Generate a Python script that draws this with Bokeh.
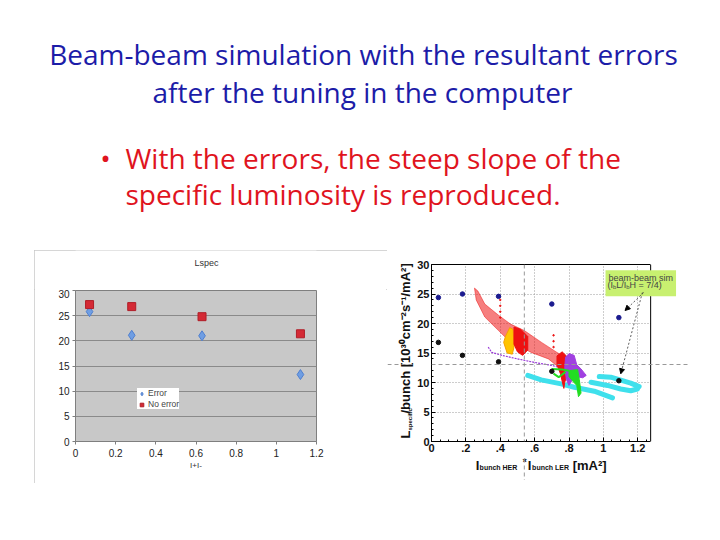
import math
from bokeh.plotting import figure
from bokeh.models import (Range1d, FixedTicker, Label, Arrow, NormalHead, Span,
                          BoxAnnotation, LinearAxis, Legend, LegendItem, Spacer)
from bokeh.layouts import column, row
from bokeh.embed import file_html
from bokeh.resources import INLINE
from bokeh.core.properties import value

# ---------------- slide text ----------------
title_lines = ["Beam-beam simulation with the resultant errors",
               "after the tuning in the computer"]
bullet_lines = ["With the errors, the steep slope of the",
                "specific luminosity is reproduced."]

# ---------------- left chart data ----------------
lspec_title = "Lspec"
lspec_x = [0.07, 0.28, 0.63, 1.12]
lspec_error = [25.8, 21.1, 21.0, 13.3]
lspec_noerror = [27.2, 26.8, 24.8, 21.4]
left_x_ticks = [0, 0.2, 0.4, 0.6, 0.8, 1.0, 1.2]
left_x_labels = ["0", "0.2", "0.4", "0.6", "0.8", "1", "1.2"]
left_y_ticks = [0, 5, 10, 15, 20, 25, 30]

# ---------------- right chart data ----------------
sim_x = [0.04, 0.18, 0.39, 0.70, 1.09]
sim_noerr = [24.4, 25.0, 24.6, 23.3, 21.0]
sim_err = [16.8, 14.6, 13.5, 11.9, 10.3]

red_band_x = [0.25, 0.27, 0.31, 0.39, 0.46, 0.54, 0.64, 0.73, 0.77, 0.765, 0.68, 0.58, 0.52, 0.46, 0.39, 0.31, 0.26]
red_band_y = [26.0, 25.5, 23.3, 21.4, 19.9, 18.8, 16.8, 15.1, 14.4, 12.0, 14.0, 15.1, 16.0, 16.8, 18.8, 21.1, 24.0]
red_block1_x = [0.48, 0.52, 0.56, 0.56, 0.53, 0.50, 0.48]
red_block1_y = [19.4, 19.0, 17.8, 15.5, 14.6, 15.2, 16.5]
red_block2_x = [0.73, 0.76, 0.785, 0.79, 0.775, 0.77, 0.75, 0.73]
red_block2_y = [14.5, 15.2, 14.5, 11.5, 10.0, 9.0, 11.5, 13.0]
red_dots_x = [0.40, 0.40, 0.40, 0.40, 0.71, 0.71, 0.71]
red_dots_y = [21.0, 22.0, 23.0, 24.0, 16.0, 17.0, 18.0]
yellow_x = [0.455, 0.475, 0.48, 0.47, 0.44, 0.42, 0.43]
yellow_y = [19.3, 19.0, 16.0, 14.8, 15.0, 16.8, 17.8]
purple_line_x = [0.33, 0.35, 0.41, 0.50, 0.60, 0.70, 0.75]
purple_line_y = [16.0, 15.1, 14.6, 14.0, 13.4, 12.9, 12.5]
purple_block_x = [0.78, 0.80, 0.83, 0.845, 0.87, 0.90, 0.88, 0.84, 0.82, 0.80, 0.785, 0.775]
purple_block_y = [14.3, 14.9, 14.6, 13.0, 12.3, 11.2, 10.8, 11.0, 10.5, 9.5, 10.5, 12.5]
green_block_x = [0.80, 0.85, 0.86, 0.87, 0.855, 0.845, 0.82, 0.80]
green_block_y = [12.0, 12.2, 10.5, 8.2, 7.6, 9.5, 10.3, 11.0]
green_lines_x = [[0.70, 0.76, 0.80], [0.71, 0.74, 0.78]]
green_lines_y = [[12.3, 12.2, 12.0], [11.5, 10.9, 11.8]]
cyan_lines_x = [[0.56, 0.638, 0.754, 0.831, 0.947, 1.053],
                [0.976, 1.043, 1.111, 1.159, 1.208],
                [0.928, 1.024, 1.101, 1.159, 1.198]]
cyan_lines_y = [[11.2, 10.45, 9.77, 9.2, 8.53, 7.4],
                [11.0, 10.9, 10.3, 9.9, 9.3],
                [10.05, 9.5, 8.9, 8.6, 8.9]]
crosshair_x = 0.54
crosshair_y = 13.05
right_x_ticks = [0, 0.2, 0.4, 0.6, 0.8, 1.0, 1.2]
right_x_labels = ["0", ".2", ".4", ".6", ".8", "1", "1.2"]
right_y_ticks = [0, 5, 10, 15, 20, 25, 30]

TITLE_BLUE = "#1c1ca8"
BULLET_RED = "#e0141e"
SLIDE_FONT = "Open Sans"
SLIDE_SIZE = "28px"
LF = "Liberation Sans"

# ================= top: slide text =================
top = figure(width=700, height=240, x_range=Range1d(0, 700), y_range=Range1d(240, 0),
             x_axis_location=None, y_axis_location=None, min_border=0,
             output_backend="svg", toolbar_location=None)
top.grid.visible = False
top.outline_line_color = None
top.text(x=[363, 362], y=[53, 91], text=title_lines, text_font=value(SLIDE_FONT),
         text_font_size=SLIDE_SIZE, text_color=TITLE_BLUE, text_align="center",
         text_baseline="middle")
top.text(x=[105], y=[157], text=["\u2022"], text_font=value(SLIDE_FONT),
         text_font_size=SLIDE_SIZE, text_color=BULLET_RED, text_align="center",
         text_baseline="middle")
top.text(x=[125, 125], y=[157, 193.5], text=bullet_lines, text_font=value(SLIDE_FONT),
         text_font_size=SLIDE_SIZE, text_color=BULLET_RED, text_align="left",
         text_baseline="middle")

# ================= left chart =================
L_TOP, L_FRAME_T, L_BOT = 250, 290, 483
lp = figure(width=353, height=L_BOT - L_FRAME_T + 1, x_range=Range1d(0, 1.2), y_range=Range1d(0, 30),
            min_border_left=41, min_border_right=71, min_border_top=1, min_border_bottom=42,
            output_backend="svg", toolbar_location=None)
lp.background_fill_color = "#c8c8c8"
lp.outline_line_color = "#7f7f7f"
lp.xgrid.visible = False
lp.ygrid.ticker = FixedTicker(ticks=left_y_ticks)
lp.ygrid.grid_line_color = "#8a8a8a"
lp.xaxis.ticker = FixedTicker(ticks=left_x_ticks)
lp.xaxis.major_label_overrides = {t: s for t, s in zip(left_x_ticks, left_x_labels)}
lp.yaxis.ticker = FixedTicker(ticks=left_y_ticks)
for ax in (lp.xaxis, lp.yaxis):
    ax.axis_line_color = "#7f7f7f"
    ax.major_tick_line_color = "#7f7f7f"
    ax.major_tick_out = 3
    ax.major_tick_in = 0
    ax.minor_tick_line_color = None
    ax.major_label_text_font = LF
    ax.major_label_text_font_size = "10px"
    ax.major_label_text_color = "#222222"
lp.yaxis.major_label_standoff = 3
lp.xaxis.major_label_standoff = 4
lp.xaxis.axis_label = "I+I-"
lp.xaxis.axis_label_text_font = LF
lp.xaxis.axis_label_text_font_size = "8px"
lp.xaxis.axis_label_text_font_style = "normal"
lp.xaxis.axis_label_text_color = "#333333"
lp.xaxis.axis_label_standoff = 1

r_err = lp.scatter(lspec_x, lspec_error, marker="diamond", size=10,
                   fill_color="#6f9ee3", line_color="#4f7fcf")
r_noerr = lp.scatter(lspec_x, lspec_noerror, marker="square", size=8,
                     fill_color="#d42a35", line_color="#b01e28")
legend = Legend(items=[LegendItem(label="Error", renderers=[r_err]),
                       LegendItem(label="No error", renderers=[r_noerr])],
                location=(62, 32), padding=2, spacing=1, margin=0,
                glyph_width=9, glyph_height=9, label_height=9, label_standoff=2,
                label_text_font=LF, label_text_font_size="8.5px",
                background_fill_color="white", background_fill_alpha=1,
                border_line_color=None)
lp.add_layout(legend)

# chart title strip above the plot (same x range, frames aligned by the column)
ltitle = figure(width=353, height=L_FRAME_T - L_TOP - 1, x_range=lp.x_range,
                y_range=Range1d(L_FRAME_T - 1, L_TOP),
                x_axis_location=None, y_axis_location=None,
                min_border_left=41, min_border_right=71, min_border_top=0, min_border_bottom=0,
                output_backend="svg", toolbar_location=None)
ltitle.grid.visible = False
ltitle.outline_line_color = None
ltitle.text(x=[0.652], y=[262], text=[lspec_title], text_font=value(LF), text_font_size="9px",
            text_color="#333333", text_align="center", text_baseline="middle")

left_block = column(ltitle, lp, styles={"outline": "1px solid #c8c8c8", "outline-offset": "-1px"})

# ================= right chart =================
# pixel geometry of the right chart (screen px)
FR_L, FR_R, FR_T, FR_B = 430, 650, 264, 441
CANVAS_R = 690
X_END = 1.275
PX_X = (FR_R - FR_L) / X_END          # px per x unit
PX_Y = (FR_B - FR_T) / 30.0           # px per y unit
def dx(px):
    return (px - FR_L) / PX_X
def dy(py):
    return (FR_B - py) / PX_Y

YL_L, YL_R = 387, 414
TOP_R, BOT_R = 240, 480
MAIN_B = 458   # bottom of main figure canvas

# the frame runs to the canvas edge; the part right of X_END is masked white so the
# annotation box may extend past the plotted area like in the original
rp = figure(width=CANVAS_R - YL_R, height=MAIN_B - TOP_R, x_range=Range1d(0, dx(CANVAS_R)),
            y_range=Range1d(0, 30),
            min_border_left=FR_L - YL_R, min_border_right=0,
            min_border_top=FR_T - TOP_R, min_border_bottom=MAIN_B - FR_B,
            output_backend="svg", toolbar_location=None)
rp.background_fill_color = "white"
rp.outline_line_color = None
rp.xaxis.ticker = FixedTicker(ticks=right_x_ticks, minor_ticks=[i * 0.05 for i in range(26)])
rp.yaxis.ticker = FixedTicker(ticks=right_y_ticks, minor_ticks=list(range(31)))
rp.xaxis.major_label_overrides = {t: s for t, s in zip(right_x_ticks, right_x_labels)}
rp.xaxis.bounds = (0, X_END)
rp.xgrid.ticker = FixedTicker(ticks=right_x_ticks)
rp.ygrid.ticker = FixedTicker(ticks=right_y_ticks)
for g in (rp.xgrid, rp.ygrid):
    g.grid_line_color = "#9a9a9a"
    g.grid_line_dash = "1 2"
for ax in (rp.xaxis, rp.yaxis):
    ax.axis_line_color = "black"
    ax.major_tick_in = 4
    ax.major_tick_out = 0
    ax.minor_tick_in = 2
    ax.minor_tick_out = 0
    ax.major_label_text_font = LF
    ax.major_label_text_font_style = "bold"
    ax.major_label_text_font_size = "11px"
    ax.major_label_text_color = "#111111"
    ax.major_label_standoff = 2
rp.add_layout(LinearAxis(ticker=FixedTicker(ticks=[]), bounds=(0, X_END),
                         axis_line_color="black"), "above")

# clouds
rp.patch(red_band_x, red_band_y, fill_color="#ee1515", fill_alpha=0.55, line_color="#ee1515",
         line_alpha=0.5, line_width=1)
rp.patch(yellow_x, yellow_y, fill_color="#ffc400", line_color="#f5a000", line_width=1)
rp.patch(red_block1_x, red_block1_y, fill_color="#ee1111", line_color="#ee1111")
rp.line(purple_line_x, purple_line_y, line_color="#9a3ad8", line_width=1.2, line_dash="2 1")
rp.multi_line(cyan_lines_x, cyan_lines_y, line_color="#3fe0ec", line_width=5,
              line_cap="round", line_join="round")
rp.patch(red_block2_x, red_block2_y, fill_color="#ee1111", line_color="#ee1111")
rp.patch(purple_block_x, purple_block_y, fill_color="#a040e0", line_color="#a040e0")
rp.multi_line(green_lines_x, green_lines_y, line_color="#22dd22", line_width=2)
rp.patch(green_block_x, green_block_y, fill_color="#22dd22", line_color="#22dd22")
rp.scatter(red_dots_x, red_dots_y, size=1.5, color="#ee1111")
rp.scatter(sim_x, sim_noerr, size=4.5, color="#1b1b8f")
rp.scatter(sim_x, sim_err, size=4.5, color="#111111")

# mask beyond the plotted area, then the right border of the plot
rp.add_layout(BoxAnnotation(left=X_END, fill_color="white", fill_alpha=1, line_color=None))
rp.add_layout(Span(location=X_END, dimension="height", line_color="black", line_width=1))

rp.add_layout(Span(location=crosshair_x, dimension="height", line_color="#999999",
                   line_dash="4 3", line_width=1))
rp.add_layout(Span(location=crosshair_y, dimension="width", line_color="#999999",
                   line_dash="4 3", line_width=1))

# annotation box
BOX_L, BOX_T = 601.7, 266.7
rp.add_layout(Label(x=dx(BOX_L + 3), y=dy(BOX_T + 3), text="beam-beam sim\n\u00a0", text_font=LF,
                    text_font_size="9px", text_line_height=1.0, text_align="left",
                    text_baseline="top", background_fill_color="#c8f070", padding=3))
for txt, px, py, fs in [("(I", 606.7, 284.3, "9px"), ("b", 612.2, 286.0, "6px"),
                        ("L/I", 615.5, 284.3, "9px"), ("b", 625.5, 286.0, "6px"),
                        ("H = 7/4)", 628.8, 284.3, "9px")]:
    rp.add_layout(Label(x=dx(px), y=dy(py), text=txt, text_font=LF, text_font_size=fs,
                        text_align="left", text_baseline="middle"))
for (sx0, sy0), (sx1, sy1) in [((643, 292), (624.3, 310)), ((641.7, 292), (620, 373.3))]:
    rp.add_layout(Arrow(end=NormalHead(size=5, fill_color="black", line_color="black"),
                        x_start=dx(sx0), y_start=dy(sy0), x_end=dx(sx1), y_end=dy(sy1),
                        line_color="#333333", line_dash="2 2", line_width=0.8))

# y axis label (own strip, same y scale as the chart)
ylab = figure(width=YL_R - YL_L, height=BOT_R - TOP_R, x_range=Range1d(YL_L, YL_R),
              y_range=Range1d(dy(BOT_R), dy(TOP_R)), x_axis_location=None,
              y_axis_location=None, min_border=0, output_backend="svg",
              toolbar_location=None)
ylab.grid.visible = False
ylab.outline_line_color = None
ylab.add_layout(Span(location=crosshair_y, dimension="width", line_color="#999999",
                     line_dash="4 3", line_width=1))
ylab.text(x=[404.5], y=[dy(438)], text=["L"], text_font=value(LF), text_font_size="13px",
          text_font_style="bold", angle=math.pi / 2, text_align="left",
          text_baseline="middle", text_color="#111111")
ylab.text(x=[409.5], y=[dy(430)], text=["specific"], text_font=value(LF), text_font_size="6px",
          text_font_style="bold", angle=math.pi / 2, text_align="left",
          text_baseline="middle", text_color="#111111")
ylab.text(x=[404.5], y=[dy(413)], text=["/bunch [10\u00b3\u2070cm\u207b\u00b2s\u207b\u00b9/mA\u00b2]"],
          text_font=value(LF), text_font_size="13px", text_font_style="bold",
          angle=math.pi / 2, text_align="left", text_baseline="middle",
          text_color="#111111")

# x axis label (own strip, frame aligned with the chart's frame, same x range)
xlab = figure(width=CANVAS_R - YL_R, height=BOT_R - MAIN_B,
              x_range=rp.x_range, y_range=Range1d(BOT_R, MAIN_B),
              x_axis_location=None, y_axis_location=None,
              min_border_left=FR_L - YL_R, min_border_right=0,
              min_border_top=0, min_border_bottom=0,
              output_backend="svg", toolbar_location=None)
xlab.grid.visible = False
xlab.outline_line_color = None
xlab.add_layout(Span(location=crosshair_x, dimension="height", line_color="#999999",
                     line_dash="4 3", line_width=1))
xl_text = ["I", "bunch HER", "*", "I", "bunch LER", "[mA\u00b2]"]
xl_px = [474.3, 478.3, 521.7, 526.7, 531.0, 571.7]
xl_py = [465.0, 466.5, 461.5, 465.0, 466.5, 465.0]
xl_fs = ["13px", "7px", "10px", "13px", "7px", "13px"]
for t, px, py, fs in zip(xl_text, xl_px, xl_py, xl_fs):
    xlab.text(x=[dx(px)], y=[py], text=[t], text_font=value(LF), text_font_size=fs,
              text_font_style="bold", text_align="left", text_baseline="middle",
              text_color="#111111")

right_block = row(ylab, column(rp, xlab))
layout = column(top, row(Spacer(width=34), column(Spacer(height=10), left_block), right_block))
open("out.html", "w").write(file_html(layout, INLINE))
